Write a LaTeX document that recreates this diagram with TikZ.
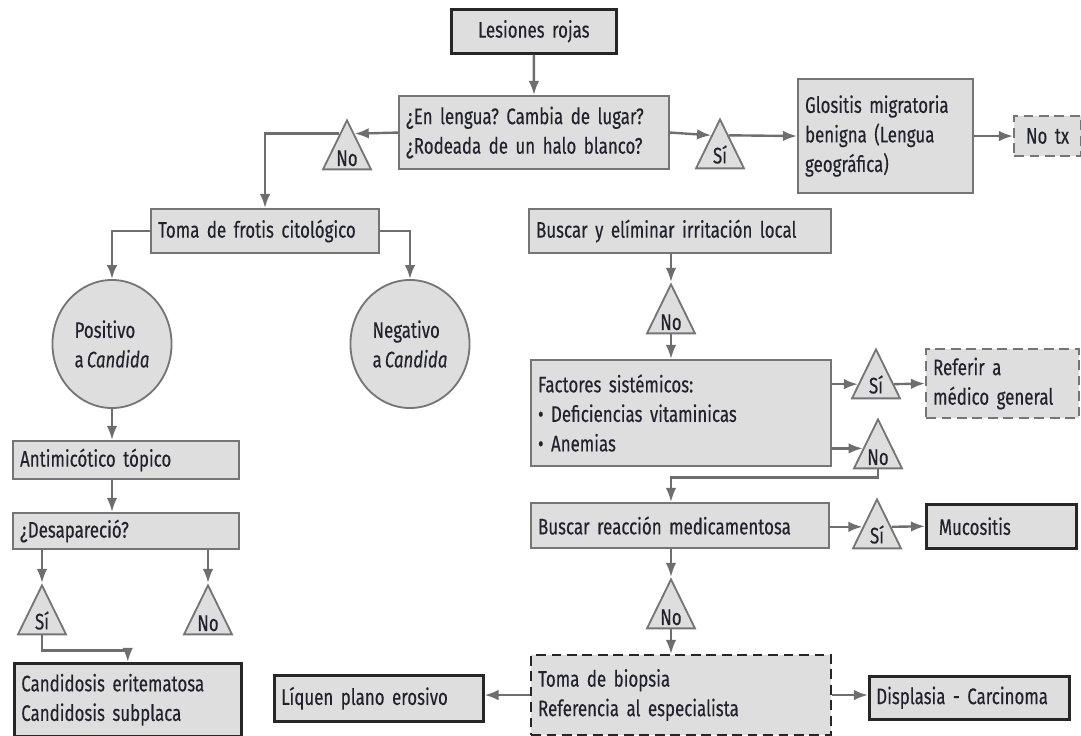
\documentclass[tikz,border=0pt]{standalone}
\usepackage{fontspec}
\setmainfont{Fira Sans}[FakeStretch=0.75, FakeBold=0.3, WordSpace=0.7]
\usepackage{tikz}
\usetikzlibrary{positioning, shapes.geometric, calc, arrows.meta}

\definecolor{boxfill}{HTML}{DEDEDE}
\definecolor{boxline}{HTML}{757575}
\definecolor{darkline}{HTML}{262626}
\definecolor{linkgray}{HTML}{6E6E6E}
\definecolor{inkcol}{HTML}{22222E}

\tikzset{
  every node/.style={font=\fontsize{16}{21}\selectfont, text=inkcol},
  plain/.style 2 args={rectangle, anchor=north west, fill=boxfill, align=left,
    inner xsep=5pt, minimum width=#1*0.025cm, minimum height=#2*0.025cm,
    text width=#1*0.025cm-10pt},
  gbox/.style 2 args={plain={#1}{#2}, draw=boxline, line width=1.5pt},
  kbox/.style 2 args={plain={#1}{#2}, draw=darkline, line width=1.8pt},
  dbox/.style 2 args={gbox={#1}{#2}, dash pattern=on 7pt off 4pt},
  tri/.style={isosceles triangle, shape border rotate=90, isosceles triangle stretches,
    anchor=apex, fill=boxfill, draw=boxline, line width=1.3pt,
    minimum width=1.2cm, minimum height=1.225cm, inner sep=1pt},
  oval/.style={ellipse, fill=boxfill, draw=boxline, line width=1.3pt,
    minimum width=2.72cm, minimum height=3.2cm, align=left},
  link/.style={draw=linkgray, line width=1.7pt},
  arr/.style={link, -{Latex[length=10pt,width=7.5pt]}}
}

\begin{document}
\frenchspacing
\begin{tikzpicture}[x=0.025cm, y=-0.025cm]
  \useasboundingbox (0,0) rectangle (1081,736);

  % Boxes at the top
  \node [kbox={165}{44}, align=center] (lesiones) at (450,8) {Lesiones rojas};
  \node [gbox={270}{73}] (pregunta) at (398,95) {¿En lengua? Cambia de lugar?\\¿Rodeada de un halo blanco?};
  \node [gbox={175}{114}] (glositis) at (797,78) {Glositis migratoria\\benigna (Lengua\\geográfica)};
  \node [dbox={67}{40}, align=center] (notx) at (1013,115) {No tx};

  % Left branch
  \node [gbox={228}{44}] (frotis) at (150,208) {Toma de frotis citológico};
  \node [oval] (positivo) at (112,344) {Positivo\\a \textit{Candida}};
  \node [oval] (negativo) at (410,344) {Negativo\\a \textit{Candida}};
  \node [gbox={226}{38}] (antimicotico) at (12,440) {Antimicótico tópico};
  \node [gbox={226}{36}] (desaparecio) at (12,512) {¿Desapareció?};
  \node [kbox={227}{73}] (candidosis) at (13,662) {Candidosis eritematosa\\Candidosis subplaca};

  % Right branch
  \node [gbox={302}{44}] (irritacion) at (528,208) {Buscar y elíminar irritación local};
  \node [gbox={300}{106}] (factores) at (530,359) {Factores sistémicos:\\• Deficiencias vitaminicas\\• Anemias};
  \node [dbox={153}{69}] (referir) at (925,348) {Referir a\\médico general};
  \node [gbox={298}{45}] (reaccion) at (530,502) {Buscar reacción medicamentosa};
  \node [kbox={150}{44}] (mucositis) at (925,503) {\hspace{4pt}Mucositis};
  \node [dbox={300}{80}, draw=darkline] (biopsia) at (530,654) {Toma de biopsia\\Referencia al especialista};
  \node [kbox={209}{46}] (liquen) at (273,674) {Líquen plano erosivo};
  \node [kbox={200}{43}] (displasia) at (868,675) {Displasia - Carcinoma};

  % Yes / no triangles
  \foreach \name/\lbl/\x/\y in {sia/Sí/720/117, noa/No/347/118, nob/No/671/282,
      sib/Sí/876/347, noc/No/878/417, sic/Sí/877/497, nod/No/671/577,
      sid/Sí/42/583, noe/No/208/583}
    \node [tri] (\name) at (\x,\y) {\lbl};

  % Connectors at the top
  \draw [arr] (lesiones) -- (pregunta);
  \draw [arr] (pregunta.west) -- ($(noa.apex)!.3!(noa.right corner)$);
  \draw [arr] ($(noa.apex)!.3!(noa.left corner)$) -| (frotis.north);
  \draw [arr] (pregunta.east) -- ($(sia.apex)!.35!(sia.left corner)$);
  \draw [arr] ($(sia.apex)!.35!(sia.right corner)$) -- (glositis.west);
  \draw [arr] (glositis) -- (notx);

  % Connectors of the left branch
  \draw [arr] (frotis.west) -| (positivo.north);
  \draw [arr] (frotis.east) -| (negativo.north);
  \draw [arr] (positivo.south) -- (positivo.south |- antimicotico.north);
  \draw [arr] (positivo.south |- antimicotico.south) -- (positivo.south |- desaparecio.north);
  \draw [arr] (desaparecio.south -| sid.apex) -- (sid.apex);
  \draw [arr] (desaparecio.south -| noe.apex) -- (noe.apex);
  \draw [arr] (sid.lower side) -- ++(0,15) -| (candidosis.north);

  % Connectors of the right branch
  \coordinate (sb-in) at ($(sib.apex)!.71!(sib.left corner)$);
  \coordinate (nc-in) at ($(noc.apex)!.6!(noc.left corner)$);
  \coordinate (sc-in) at ($(sic.apex)!.57!(sic.left corner)$);
  \draw [arr] (irritacion.south -| nob.apex) -- (nob.apex);
  \draw [arr] (nob.lower side) -- (nob.lower side |- factores.north);
  \draw [arr] (factores.east |- sb-in) -- (sb-in);
  \draw [arr] ($(sib.apex)!.71!(sib.right corner)$) -- (referir.west);
  \draw [arr] (factores.east |- nc-in) -- (nc-in);
  \draw [arr] (noc.lower side) -- ++(0,8) -| (reaccion.north -| nob.apex);
  \draw [arr] (reaccion.east |- sc-in) -- (sc-in);
  \draw [arr] ($(sic.apex)!.57!(sic.right corner)$) -- (mucositis.west);
  \draw [arr] (reaccion.south -| nod.apex) -- (nod.apex);
  \draw [arr] (nod.lower side) -- (nod.lower side |- biopsia.north);
  \draw [arr] (biopsia.west) -- (biopsia.west -| liquen.east);
  \draw [arr] (biopsia.east) -- (biopsia.east -| displasia.west);
\end{tikzpicture}
\end{document}
